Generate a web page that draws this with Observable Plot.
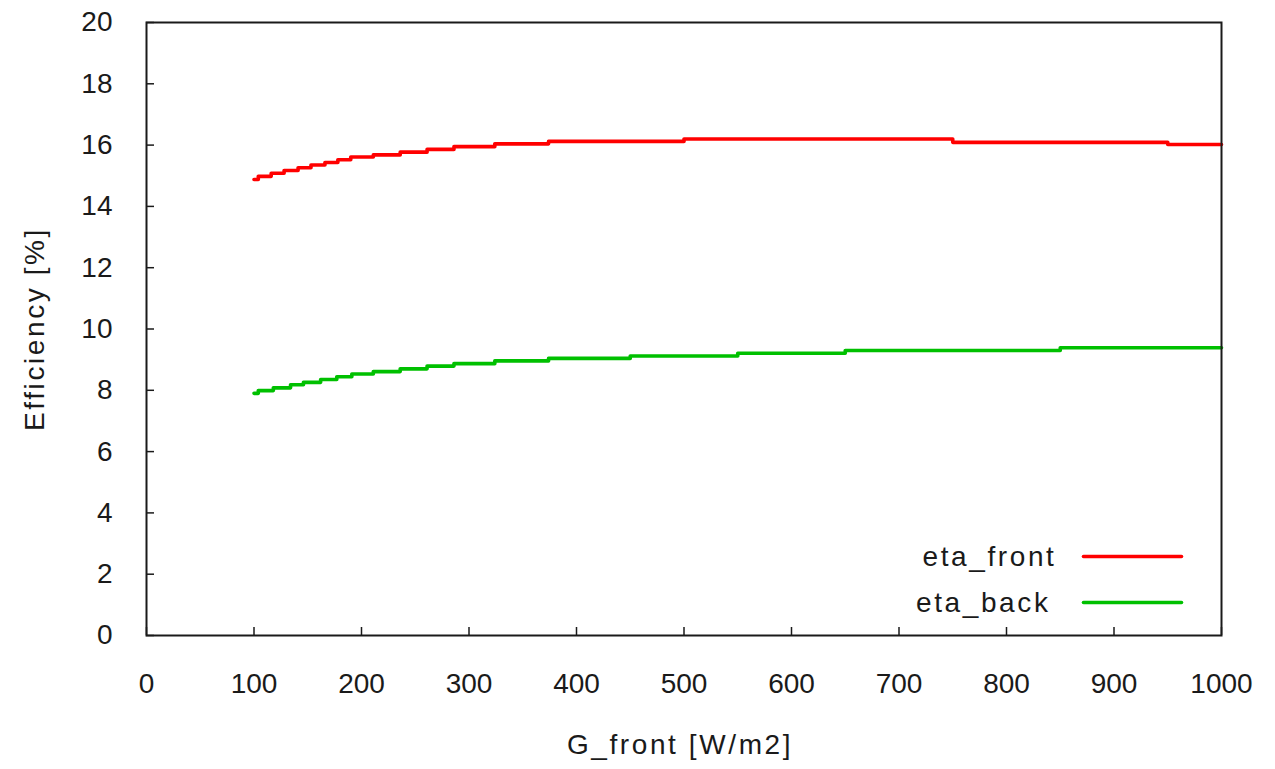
<!DOCTYPE html>
<html>
<head>
<meta charset="utf-8">
<script src="https://cdn.jsdelivr.net/npm/d3@7"></script>
<script src="https://cdn.jsdelivr.net/npm/@observablehq/plot@0.6"></script>
<style>
  html, body { margin: 0; padding: 0; background: #fff; }
  #chart svg { display: block; }
  /* axis titles and legend entries are set a little loose */
  #chart g[aria-label="text"] text { letter-spacing: 2.6px; }
</style>
</head>
<body>
<div id="chart"></div>
<script>
// Front-side efficiency vs. front irradiance (breakpoints of the stepped curve)
const frontG   = [100, 104, 116, 128, 141, 153, 166, 178, 190, 211, 236, 261, 286, 324, 374, 500, 750, 950, 1000];
const frontEta = [14.88, 14.98, 15.08, 15.17, 15.26, 15.35, 15.43, 15.52, 15.61, 15.68, 15.77, 15.86, 15.95, 16.04, 16.12, 16.20, 16.09, 16.02, 16.02];

// Back-side efficiency vs. front irradiance
const backG   = [100, 104, 118, 134, 146, 162, 177, 191, 211, 236, 261, 286, 324, 374, 450, 550, 650, 850, 1000];
const backEta = [7.90, 7.99, 8.08, 8.18, 8.26, 8.35, 8.44, 8.53, 8.61, 8.70, 8.79, 8.87, 8.96, 9.04, 9.12, 9.21, 9.30, 9.39, 9.39];

const seriesNames = ["eta_front", "eta_back"];
const seriesColors = ["#ff0000", "#00c000"];

const xTicks = [0, 100, 200, 300, 400, 500, 600, 700, 800, 900, 1000];
const yTicks = [0, 2, 4, 6, 8, 10, 12, 14, 16, 18, 20];

const xLabel = "G_front [W/m2]";
const yLabel = "Efficiency [%]";

const front = frontG.map((g, i) => ({g, eta: frontEta[i]}));
const back = backG.map((g, i) => ({g, eta: backEta[i]}));

// plain straight stroke used for the legend swatches
const lineShape = {
  draw(context, l) {
    context.moveTo(0, 0);
    context.lineTo(0, -l);
  }
};

const textColor = "#1a1a1a";
const lineWidth = 3.6;

const chart = Plot.plot({
  width: 1275,
  height: 769,
  marginLeft: 146,
  marginRight: 54,
  marginTop: 22,
  marginBottom: 134,
  style: {
    fontFamily: "'Liberation Sans', Arial, Helvetica, sans-serif",
    fontSize: "28px",
    color: textColor,
    background: "#fff"
  },
  x: {domain: [0, 1000]},
  y: {domain: [0, 20]},
  marks: [
    Plot.axisX(xTicks, {tickSize: -8, tickPadding: 46, label: null, tickFormat: d => String(d), strokeWidth: 1.5, stroke: "#1a1a1a"}),
    Plot.axisY(yTicks, {tickSize: -8, tickPadding: 42, label: null, tickFormat: d => String(d), strokeWidth: 1.5, stroke: "#1a1a1a"}),
    Plot.line(front, {x: "g", y: "eta", stroke: seriesColors[0], strokeWidth: lineWidth, curve: "step-after"}),
    Plot.line(back, {x: "g", y: "eta", stroke: seriesColors[1], strokeWidth: lineWidth, curve: "step-after"}),
    Plot.frame({stroke: "#1a1a1a", strokeWidth: 2}),
    // axis titles
    Plot.text([xLabel], {frameAnchor: "bottom", dy: 110, dx: -4, lineAnchor: "middle", fill: textColor}),
    Plot.text([yLabel], {frameAnchor: "left", dx: -111, rotate: -90, lineAnchor: "middle", textAnchor: "middle", fill: textColor}),
    // legend
    Plot.text([seriesNames[0]], {frameAnchor: "bottom-right", dx: -165, dy: -78, textAnchor: "end", lineAnchor: "middle", fill: textColor}),
    Plot.text([seriesNames[1]], {frameAnchor: "bottom-right", dx: -171, dy: -32, textAnchor: "end", lineAnchor: "middle", fill: textColor}),
    Plot.vector([0], {frameAnchor: "bottom-right", dx: -40, dy: -79, rotate: -90, length: 98, anchor: "start", shape: lineShape, stroke: seriesColors[0], strokeWidth: lineWidth}),
    Plot.vector([0], {frameAnchor: "bottom-right", dx: -40, dy: -33, rotate: -90, length: 98, anchor: "start", shape: lineShape, stroke: seriesColors[1], strokeWidth: lineWidth})
  ]
});

document.getElementById("chart").appendChild(chart);
</script>
</body>
</html>
